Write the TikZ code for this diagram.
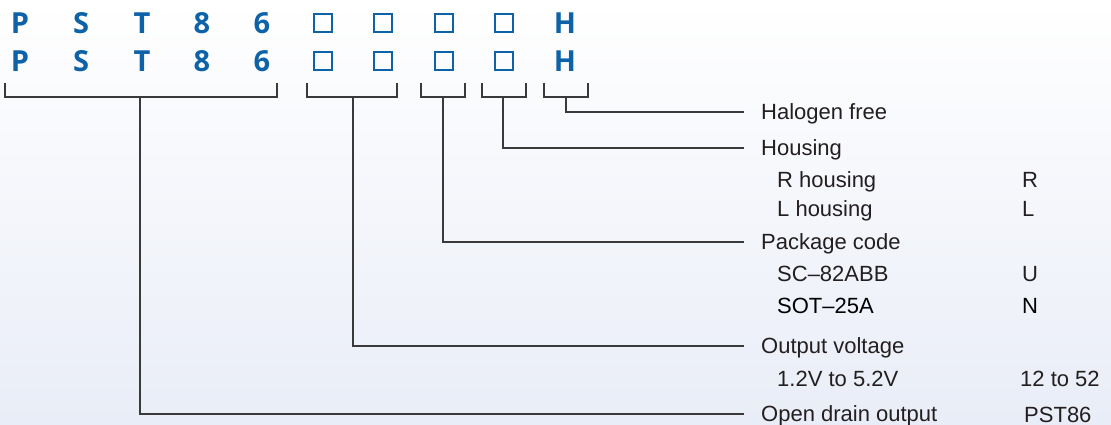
\documentclass[tikz,border=0pt]{standalone}
\usepackage{fontspec}
\setmainfont{Liberation Sans}
\newfontfamily\codefont{Open Sans}
\usetikzlibrary{positioning}
\definecolor{codeblue}{RGB}{14,98,168}
\definecolor{linegray}{RGB}{58,58,58}
\definecolor{textgray}{RGB}{35,31,32}
\definecolor{bgblue}{RGB}{233,237,247}

\begin{document}
\begin{tikzpicture}[x=1pt, y=-1pt,
    letter/.style={anchor=base, inner sep=0pt, text=codeblue, font=\codefont\bfseries\fontsize{29}{29}\selectfont},
    slot/.style={draw=codeblue, line width=1.8pt, minimum size=18pt, inner sep=0pt},
    desc/.style={anchor=west, inner xsep=17pt, inner ysep=0pt, text height=15.7pt, text depth=0pt, text=textgray, font=\fontsize{22}{26}\selectfont},
    subitem/.style={anchor=base west, inner sep=0pt, text=textgray, font=\fontsize{22}{26}\selectfont},
    bracket/.style={draw=linegray, line width=1.3pt}
]
\fill[top color=white, bottom color=bgblue] (0,0) rectangle (1111,425);
\useasboundingbox (0,0) rectangle (1111,425);

% part number, two rows
\foreach \row/\yb in {1/34, 2/72} {
  \foreach \ch/\x [count=\i] in {P/20, S/81, T/142, 8/202, 6/262}
    \node[letter] (c\row-\i) at (\x,\yb) {\ch};
  \foreach \x [count=\i from 6] in {323, 383, 444, 504}
    \node[slot] (c\row-\i) at (\x,\yb-11) {};
  \node[letter] (c\row-10) at (565,\yb) {H};
}

% descriptions
\node[desc] (halogen) at (744,112) {Halogen free};
\node[desc] (housing) at (744,148) {Housing};
\node[desc] (package) at (744,242) {Package code};
\node[desc] (voltage) at (744,346) {Output voltage};
\node[desc] (output) at (744,414) {Open drain output};

\node[subitem] (rh) at (777,187) {R housing};
\node[subitem] (lh) at (777,216) {L housing};
\node[subitem] (sc) at (777,281) {SC–82ABB};
\node[subitem, text=black] (sot) at (777,313) {SOT–25A};
\node[subitem] (vr) at (777,386) {1.2V to 5.2V};

\node[subitem] (rcode) at (1022,187) {R};
\node[subitem] (lcode) at (1022,216) {L};
\node[subitem] (ucode) at (1022,281) {U};
\node[subitem, text=black] (ncode) at (1022,313) {N};
\node[subitem] (vcode) at (1020,386) {12 to 52};
\node[subitem] (pcode) at (1024,422) {PST86};

% brackets and leaders
\foreach \l/\r/\s/\n in {5/277/140/output, 307/397/353/voltage, 421/465/443/package, 482/526/503/housing, 544/588/566/halogen} {
  \draw[bracket] (\l,83) |- (\r,97) -- (\r,83);
  \coordinate (s-\n) at (\s,97);
  \draw[bracket] (s-\n) |- (\n.west);
}
\end{tikzpicture}
\end{document}
